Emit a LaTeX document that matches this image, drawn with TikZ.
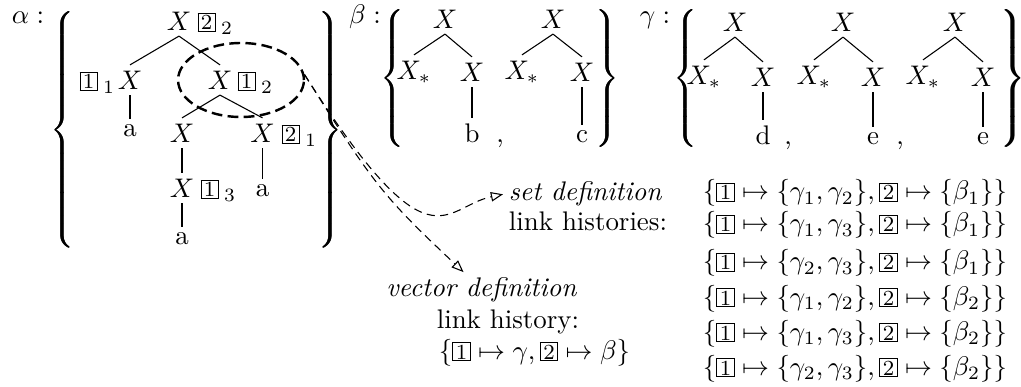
\documentclass[tikz,border=0pt]{standalone}
\usepackage{graphicx}
\usetikzlibrary{arrows.meta,shapes.geometric}
\newcommand\bx[1]{{\setlength\fboxsep{0.5pt}\fbox{\makebox[5pt]{\footnotesize #1}}}}
\newcommand\tagsub[1]{\hspace{2pt}\raisebox{-1.6pt}{\scriptsize #1}}
\newcommand\lbr[1]{$\delimiterfactor=1000\delimitershortfall=0pt\nulldelimiterspace=0pt\left\{\vrule height#1 depth#1 width0pt\right.$}
\newcommand\rbr[1]{$\delimiterfactor=1000\delimitershortfall=0pt\nulldelimiterspace=0pt\left.\vrule height#1 depth#1 width0pt\right\}$}
\newcommand\thk[1]{\rlap{\kern0.35pt#1}#1}
\begin{document}
\begin{tikzpicture}[x=0.3717pt,y=-0.3717pt,
  tn/.style={inner sep=2pt},
  lf/.style={inner sep=2pt, anchor=base},
  tg/.style={inner sep=0pt, anchor=base west},
  br/.style={inner sep=0pt},
  lab/.style={inner sep=0pt, anchor=base},
  txt/.style={inner sep=2pt},
  arr/.style={dash pattern=on 3pt off 2pt, -{Triangle[open,length=4.5pt,width=3.5pt]}},
  ell/.style={draw, ellipse, line width=0.9pt, dash pattern=on 4pt off 2pt, minimum width=46.8pt, minimum height=27.5pt, inner sep=0pt}
]
\useasboundingbox (0,0) rectangle (1021,387);

% ---------- alpha ----------
\node[lab] (alab) at (28,24) {$\alpha:$};
\node[br] (alL) at (62,130) {\scalebox{1}[0.975]{\thk{\lbr{42.1pt}}}};
\node[br] (alR) at (330,130) {\scalebox{1}[0.975]{\thk{\rbr{42.1pt}}}};

\node[tn] (a0) at (179,21) {$X$};
\node[tn] (a1) at (130,80) {$X$};
\node[tn] (a2) at (220,80) {$X$};
\node[lf] (a3) at (130,137) {a};
\node[tn] (a4) at (182,133) {$X$};
\node[tn] (a5) at (262.5,133) {$X$};
\node[tn] (a6) at (182,188) {$X$};
\node[lf] (a7) at (262.5,197) {a};
\node[lf] (a8) at (182,245) {a};

\node[tg] (a0t) at (197,30) {\bx{2}\tagsub{2}};
\node[tg] (a1t) at (79,89) {\bx{1}\tagsub{1}};
\node[tg] (a2t) at (237,89) {\bx{1}\tagsub{2}};
\node[tg] (a5t) at (281,142) {\bx{2}\tagsub{1}};
\node[tg] (a6t) at (200,197) {\bx{1}\tagsub{3}};

\draw (a0.south) -- (a1.north);
\draw (a0.south) -- (a2.north);
\draw (a1.south) -- (a3.north);
\draw (a2.south) -- (a4.north);
\draw (a2.south) -- (a5.north);
\draw (a4.south) -- (a6.north);
\draw (a5.south) -- (a7.north);
\draw (a6.south) -- (a8.north);

\node[ell] (ell) at (241,80) {};

% ---------- beta ----------
\node[lab] (blab) at (365,24) {$\beta:$};
\node[br] (bL) at (392,78.5) {\scalebox{1}[0.945]{\thk{\lbr{23pt}}}};
\node[br] (bR) at (607,78.5) {\scalebox{1}[0.945]{\thk{\rbr{23pt}}}};

\node[tn] (b1r) at (445,19) {$X$};
\node[tn] (b1l) at (414,72) {$X_*$};
\node[tn] (b1x) at (472,72) {$X$};
\node[lf] (b1b) at (472,143) {b};
\node[lf] (bc1) at (500,143) {,};
\node[tn] (b2r) at (553,19) {$X$};
\node[tn] (b2l) at (522,72) {$X_*$};
\node[tn] (b2x) at (582,72) {$X$};
\node[lf] (b2c) at (582,143) {c};

\draw (b1r.south) -- (b1l.north);
\draw (b1r.south) -- (b1x.north);
\draw (b1x.south) -- (b1b.north);
\draw (b2r.south) -- (b2l.north);
\draw (b2r.south) -- (b2x.north);
\draw (b2x.south) -- (b2c.north);

% ---------- gamma ----------
\node[lab] (glab) at (655,24) {$\gamma:$};
\node[br] (gL) at (685,78.5) {\scalebox{1}[0.945]{\thk{\lbr{23pt}}}};
\node[br] (gR) at (1012,78.5) {\scalebox{1}[0.945]{\thk{\rbr{23pt}}}};

\node[tn] (g1r) at (735,22) {$X$};
\node[tn] (g1l) at (704,77) {$X_*$};
\node[tn] (g1x) at (763,77) {$X$};
\node[lf] (g1d) at (763,145) {d};
\node[lf] (gc1) at (788,145) {,};
\node[tn] (g2r) at (843,22) {$X$};
\node[tn] (g2l) at (814,77) {$X_*$};
\node[tn] (g2x) at (873,77) {$X$};
\node[lf] (g2e) at (873,145) {e};
\node[lf] (gc2) at (900,145) {,};
\node[tn] (g3r) at (955,22) {$X$};
\node[tn] (g3l) at (923,77) {$X_*$};
\node[tn] (g3x) at (983,77) {$X$};
\node[lf] (g3e) at (983,145) {e};

\draw (g1r.south) -- (g1l.north);
\draw (g1r.south) -- (g1x.north);
\draw (g1x.south) -- (g1d.north);
\draw (g2r.south) -- (g2l.north);
\draw (g2r.south) -- (g2x.north);
\draw (g2x.south) -- (g2e.north);
\draw (g3r.south) -- (g3l.north);
\draw (g3r.south) -- (g3x.north);
\draw (g3x.south) -- (g3e.north);

% ---------- link histories ----------
\node[txt, anchor=base west] (sdef) at (503,201) {\textit{set definition}};
\node[txt, anchor=base west] (shist) at (503,231) {link histories:};

\node[txt, anchor=base west] (r1) at (697,200) {$\{\bx{1}\mapsto\{\gamma_1,\gamma_2\},\bx{2}\mapsto\{\beta_1\}\}$};
\node[txt, anchor=base west] (r2) at (697,232) {$\{\bx{1}\mapsto\{\gamma_1,\gamma_3\},\bx{2}\mapsto\{\beta_1\}\}$};
\node[txt, anchor=base west] (r3) at (697,270) {$\{\bx{1}\mapsto\{\gamma_2,\gamma_3\},\bx{2}\mapsto\{\beta_1\}\}$};
\node[txt, anchor=base west] (r4) at (697,305) {$\{\bx{1}\mapsto\{\gamma_1,\gamma_2\},\bx{2}\mapsto\{\beta_2\}\}$};
\node[txt, anchor=base west] (r5) at (697,340) {$\{\bx{1}\mapsto\{\gamma_1,\gamma_3\},\bx{2}\mapsto\{\beta_2\}\}$};
\node[txt, anchor=base west] (r6) at (697,375) {$\{\bx{1}\mapsto\{\gamma_2,\gamma_3\},\bx{2}\mapsto\{\beta_2\}\}$};

\node[txt, anchor=base east] (vdef) at (583,297) {\textit{vector definition}};
\node[txt, anchor=base east] (vhist) at (585,328) {link history:};
\node[txt, anchor=base west] (vform) at (433,359) {$\{\bx{1}\mapsto\gamma,\bx{2}\mapsto\beta\}$};

% ---------- arrows ----------
\draw[arr] (ell.5) .. controls (431,274) and (443,207) .. (sdef.west);
\draw[arr] (ell.5) .. controls (375,187) and (385,198) .. (vdef.135);
\end{tikzpicture}
\end{document}
